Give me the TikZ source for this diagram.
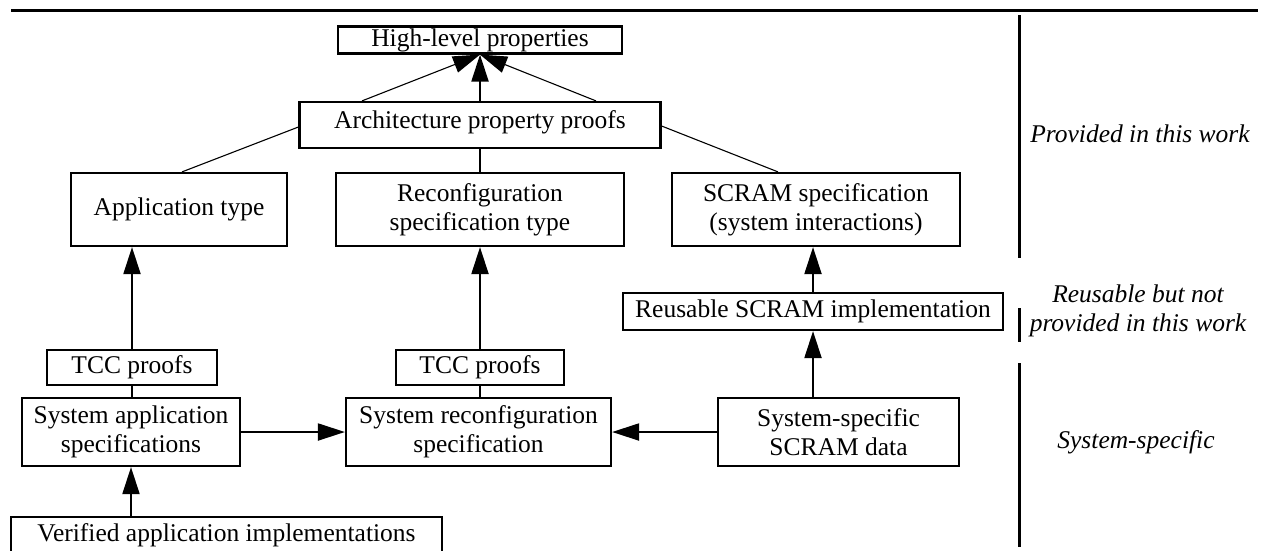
\documentclass[tikz,border=0pt]{standalone}
\usepackage{fontspec}
\setmainfont{Liberation Serif}
\usetikzlibrary{arrows.meta}
\begin{document}
\begin{tikzpicture}[x=1pt,y=-1pt,
  box/.style={draw,line width=2.2pt,inner sep=0pt,align=center,
    font=\fontsize{25.5}{29}\selectfont},
  lbl/.style={inner sep=0pt,align=center,font=\fontsize{25.5}{29}\selectfont\itshape},
  thinline/.style={line width=1.1pt},
  thickline/.style={line width=2pt},
  arr/.style={-{Triangle[length=27pt,width=17pt]}},
  bar/.style={line width=3pt}]
\useasboundingbox (0,0) rectangle (1265,550);
% top rule
\coordinate (r1) at (11,10);
\coordinate (r2) at (1258,10);
\draw[bar] (r1) -- (r2);
% boxes
\node[box,minimum width=284pt,minimum height=27pt] (hl) at (480,40) {High-level properties};
\node[box,minimum width=361pt,text height=26pt,text depth=20pt] (arch) at (480,125) {Architecture property proofs};
\node[box,minimum width=216pt,minimum height=73pt] (app) at (179,209.5) {Application type};
\node[box,minimum width=288pt,minimum height=73pt] (recon) at (480,209.5) {Reconfiguration\\specification type};
\node[box,minimum width=288pt,minimum height=73pt] (scram) at (816,209.5) {SCRAM specification\\(system interactions)};
\node[box,minimum width=380pt,minimum height=37pt] (reuse) at (813,311.5) {Reusable SCRAM implementation};
\node[box,minimum width=170pt,minimum height=35pt] (tcca) at (132,367.5) {TCC proofs};
\node[box,minimum width=168pt,minimum height=35pt] (tccb) at (480,367.5) {TCC proofs};
\node[box,minimum width=218pt,minimum height=68pt] (sysapp) at (131,432) {System application\\specifications};
\node[box,minimum width=265pt,minimum height=68pt] (sysrec) at (478.5,432) {System reconfiguration\\specification};
\node[box,minimum width=241pt,minimum height=68pt] (sysspec) at (838.5,432) {System-specific\\SCRAM data};
\node[box,minimum width=431pt,minimum height=36pt] (ver) at (226.5,535) {Verified application implementations};
% connectors
\draw[thinline,arr] ([xshift=-118pt]arch.north) -- (hl.south);
\draw[thickline,arr] (arch.north) -- (hl.south);
\draw[thinline,arr] ([xshift=116pt]arch.north) -- (hl.south);
\draw[thinline] ([yshift=-2pt]arch.west) -- ([xshift=3pt]app.north);
\draw[thickline] (arch.south) -- (recon.north);
\draw[thinline] ([yshift=-1pt]arch.east) -- ([xshift=-38pt]scram.north);
\draw[thickline,arr] (tcca.north) -- (tcca.north |- app.south);
\draw[thickline,arr] (tccb.north) -- (recon.south);
\draw[thickline] (tcca.south) -- (tcca.south |- sysapp.north);
\draw[thickline] (tccb.south) -- (tccb.south |- sysrec.north);
\draw[thickline,arr] (sysapp.east) -- (sysrec.west);
\draw[thickline,arr] (sysspec.west) -- (sysrec.east);
\draw[thickline,arr] (reuse.south |- sysspec.north) -- (reuse.south);
\draw[thickline,arr] (reuse.north) -- (reuse.north |- scram.south);
\draw[thickline,arr] (sysapp.south |- ver.north) -- (sysapp.south);
% right side bars
\coordinate (b1) at (1019,15);
\coordinate (b2) at (1019,258);
\coordinate (b3) at (1019,308);
\coordinate (b4) at (1019,342);
\coordinate (b5) at (1019,363);
\coordinate (b6) at (1019,547);
\draw[bar] (b1) -- (b2);
\draw[bar] (b3) -- (b4);
\draw[bar] (b5) -- (b6);
% right side labels
\node[lbl] (l1) at (1140,134) {Provided in this work};
\node[lbl] (l2) at (1138,311) {Reusable but not\\provided in this work};
\node[lbl] (l3) at (1136,442) {System-specific};
\end{tikzpicture}
\end{document}
